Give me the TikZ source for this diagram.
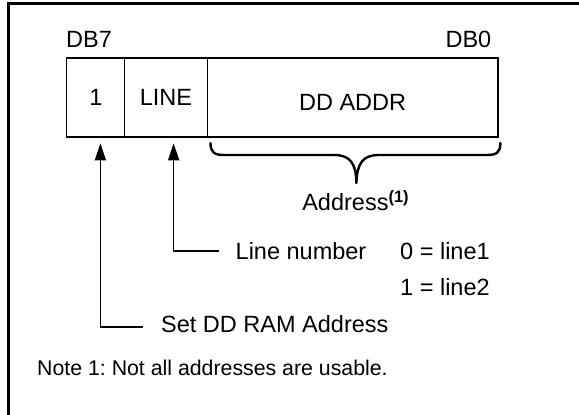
\documentclass[tikz,border=0pt]{standalone}
\usepackage{fontspec}
\setmainfont{Liberation Sans}
\usetikzlibrary{arrows.meta}
\frenchspacing
\begin{document}
\begin{tikzpicture}[x=1pt,y=-1pt,
  txt/.style={inner sep=0pt,font=\fontsize{23.5}{28}\selectfont},
  notetxt/.style={inner sep=0pt,font=\fontsize{21.3}{26}\selectfont},
  cell/.style={draw,line width=1.3pt,inner sep=0pt,outer sep=0pt,minimum height=79pt,anchor=north west,font=\fontsize{23.5}{28}\selectfont},
  arr/.style={line width=1.4pt,-{Triangle[length=17pt,width=11pt]}},
  bracepath/.style={line width=2.4pt,line cap=round,line join=round},
  frame/.style={line width=3pt}]
\useasboundingbox (0,0) rectangle (579,415);
% frame (only top and left edges visible)
\draw[frame] (8,415) -- (8,3.5) -- (579,3.5);
% header labels
\node[txt,anchor=base west] (db7) at (66,47) {DB7};
\node[txt,anchor=base east] (db0) at (491.5,47) {DB0};
% register cells
\node[cell,minimum width=58pt] (cell1) at (66.8,58) {1};
\node[cell,minimum width=82.4pt] (cell2) at (124.8,58) {LINE};
\node[cell,minimum width=290.8pt] (cell3) at (207.2,58) {};
\node[txt,anchor=base] (ddaddr) at (352.6,110) {DD ADDR};
% brace under DD ADDR
\draw[bracepath] (210.5,143) .. controls (210.5,152) and (214,155) .. (224,155) -- (334,155)
  .. controls (350,155) and (356,163) .. (356.4,183)
  .. controls (357,163) and (363,155) .. (379,155) -- (487,155)
  .. controls (497,155) and (500.4,152) .. (500.4,143);
\node[txt,anchor=base] (addr) at (355.5,210) {Address\raisebox{8pt}{\fontsize{16.5}{17}\selectfont\bfseries(1)}};
% descriptions
\node[txt,anchor=base west] (linenum) at (235.5,259.5) {Line number};
\node[txt,anchor=base west] (l0) at (400,259.5) {0 = line1};
\node[txt,anchor=base west] (l1) at (400,295) {1 = line2};
\node[txt,anchor=base west] (set) at (161,332.5) {Set DD RAM Address};
\node[notetxt,anchor=base west] (note) at (37,375) {Note 1: Not all addresses are usable.};
% arrows
\draw[arr] ([xshift=-16.6pt]linenum.west) -| ([xshift=7.6pt,yshift=-6.3pt]cell2.south);
\draw[arr] ([xshift=-18pt,yshift=-3pt]set.west) -| ([xshift=4.6pt,yshift=-6.3pt]cell1.south);
\end{tikzpicture}
\end{document}
